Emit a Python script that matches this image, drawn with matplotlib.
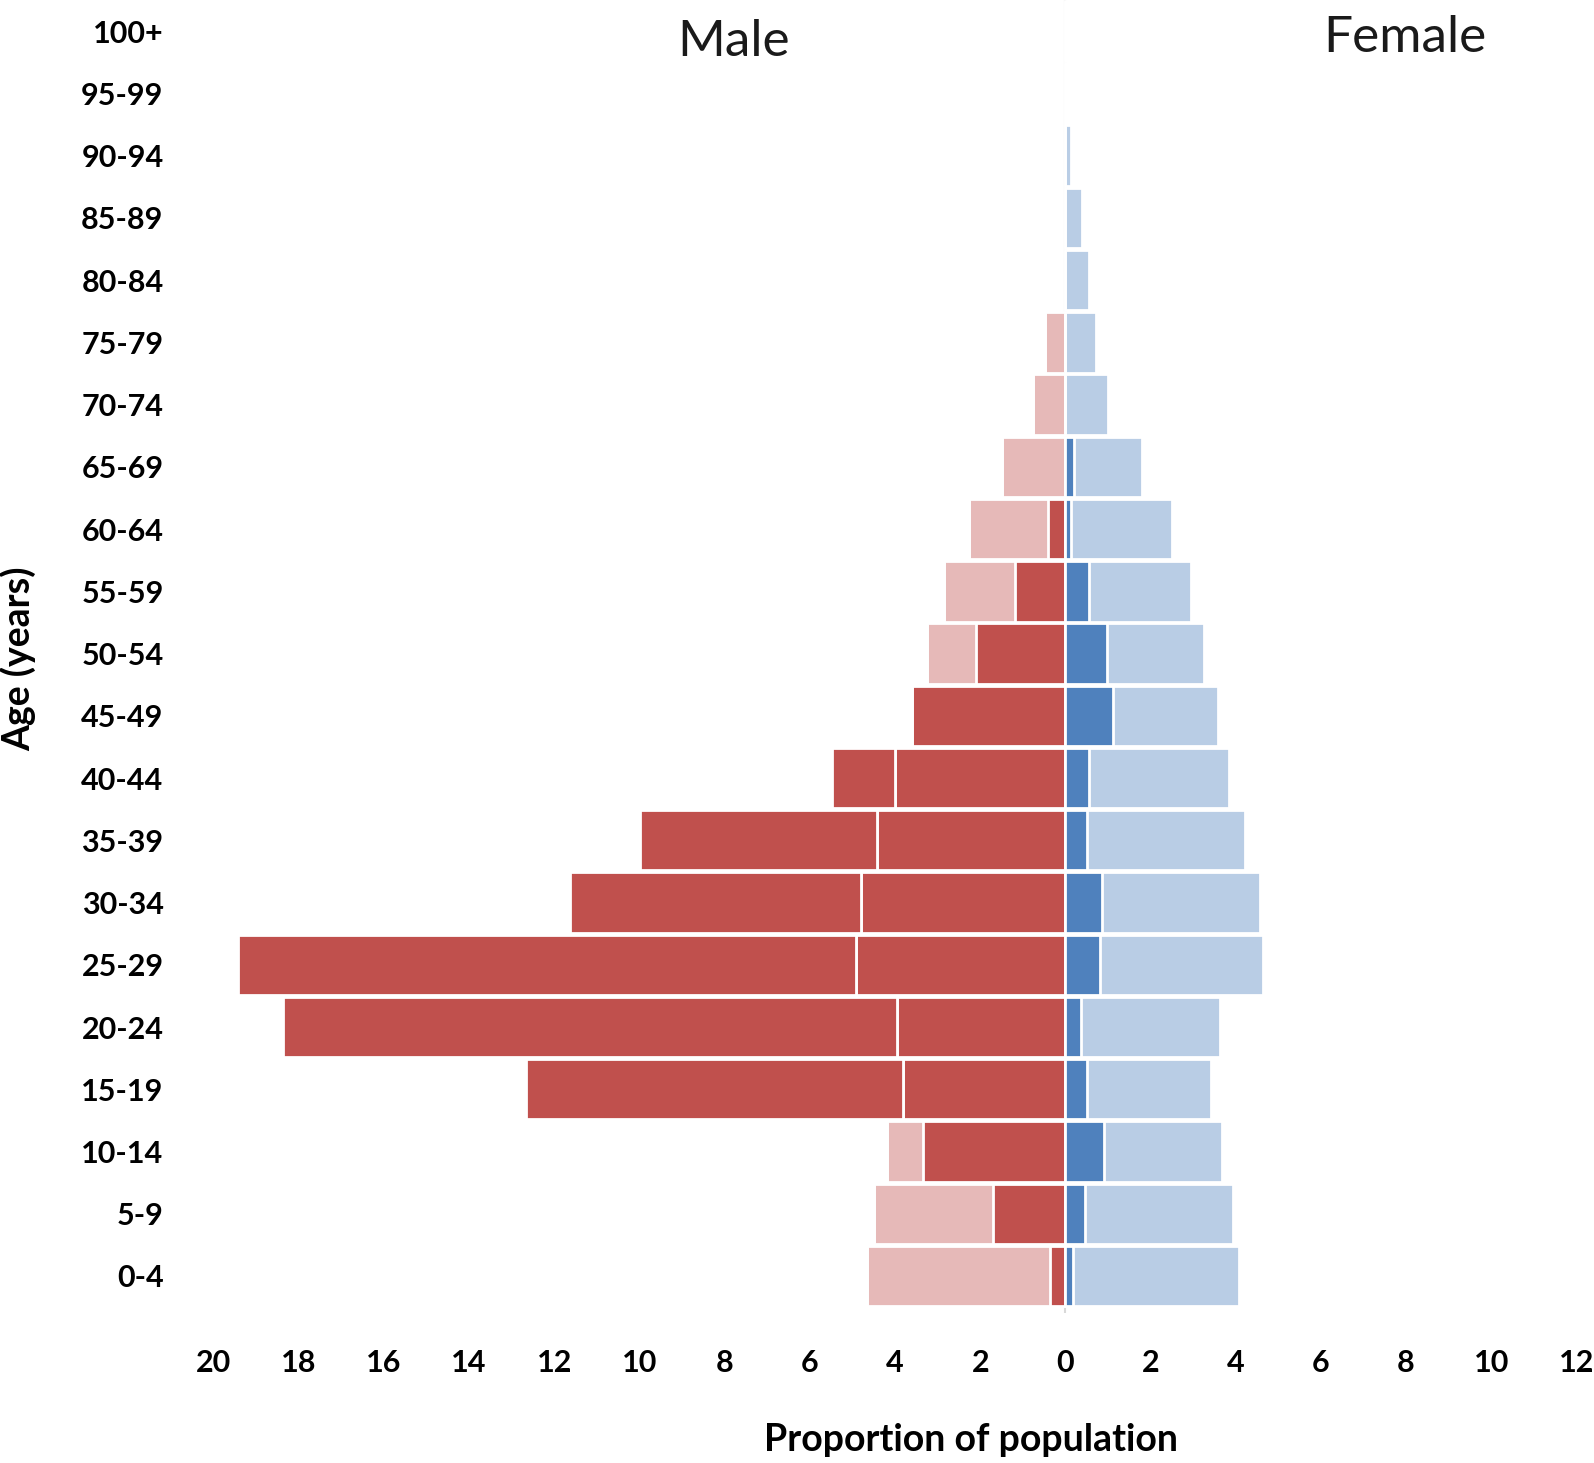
import numpy as np
import matplotlib.pyplot as plt

# Age groups, bottom to top
ages = ["0-4", "5-9", "10-14", "15-19", "20-24", "25-29", "30-34", "35-39",
        "40-44", "45-49", "50-54", "55-59", "60-64", "65-69", "70-74",
        "75-79", "80-84", "85-89", "90-94", "95-99", "100+"]

# Male: reference population (light) and sample (dark), in %
male_ref = [4.65, 4.49, 4.18, 3.82, 3.96, 4.92, 4.80, 4.42, 3.99, 3.60, 3.25,
            2.84, 2.27, 1.50, 0.76, 0.48, 0, 0, 0, 0, 0]
male_sample = [0.36, 1.69, 3.34, 12.67, 18.38, 19.43, 11.62, 9.98, 5.49, 3.65,
               2.10, 1.19, 0.41, 0, 0, 0, 0, 0, 0, 0, 0]

# Female: reference population (light) and sample (dark), in %
female_ref = [4.08, 3.94, 3.68, 3.41, 3.63, 4.63, 4.56, 4.22, 3.84, 3.58, 3.25,
              2.96, 2.51, 1.79, 1.00, 0.72, 0.55, 0.38, 0.14, 0.03, 0.01]
female_sample = [0.19, 0.45, 0.91, 0.50, 0.36, 0.81, 0.86, 0.50, 0.55, 1.12,
                 0.98, 0.55, 0.14, 0.21, 0, 0, 0, 0, 0, 0, 0]

x_ticks = list(range(-20, 13, 2))

plt.rcParams["font.family"] = ["Lato", "DejaVu Sans"]

fig = plt.figure(figsize=(15.94, 14.63), dpi=100)
ax = fig.add_axes([0.134, 0.1023, 0.855, 0.8977])

y = np.arange(len(ages))
h = 0.97
mr = np.array(male_ref)
ms = np.array(male_sample)
fr = np.array(female_ref)
fs = np.array(female_sample)

ax.axvline(0, color="#d9d9d9", lw=1.5, zorder=0)

# light bars first, then the sample bars on top
ax.barh(y, -mr, height=h, color="#E6B9B8", edgecolor="white", lw=2, zorder=2)
ax.barh(y, -np.minimum(ms, mr), height=h, color="#C0504D", edgecolor="white", lw=2, zorder=3)
excess = np.clip(ms - mr, 0, None)
ax.barh(y, -excess, left=-mr, height=h, color="#C0504D", edgecolor="white", lw=2, zorder=3)

ax.barh(y, fr, height=h, color="#B9CDE5", edgecolor="white", lw=2, zorder=2)
ax.barh(y, fs, height=h, color="#4F81BD", edgecolor="white", lw=2, zorder=3)

ax.set_xlim(-20, 12)
ax.set_ylim(-0.6, 20.5)
ax.set_xticks(x_ticks)
ax.set_xticklabels([str(abs(t)) for t in x_ticks])
ax.set_yticks(y)
ax.set_yticklabels(ages)
ax.tick_params(axis="both", length=0, labelsize=22)
ax.tick_params(axis="y", pad=36)
ax.tick_params(axis="x", pad=26)
for lab in ax.get_xticklabels() + ax.get_yticklabels():
    lab.set_fontweight("bold")
for s in ax.spines.values():
    s.set_visible(False)

ax.text(-7.8, 19.82, "Male", fontsize=37, ha="center", va="center", color="#1a1a1a")
ax.text(7.98, 19.89, "Female", fontsize=37, ha="center", va="center", color="#1a1a1a")

fig.text(0.609, 0.0157, "Proportion of population", fontsize=27, fontweight="bold",
         ha="center", va="center")
fig.text(0.0115, 0.55, "Age (years)", fontsize=27, fontweight="bold", rotation=90,
         ha="center", va="center")

fig.savefig("out.png", dpi=100)
